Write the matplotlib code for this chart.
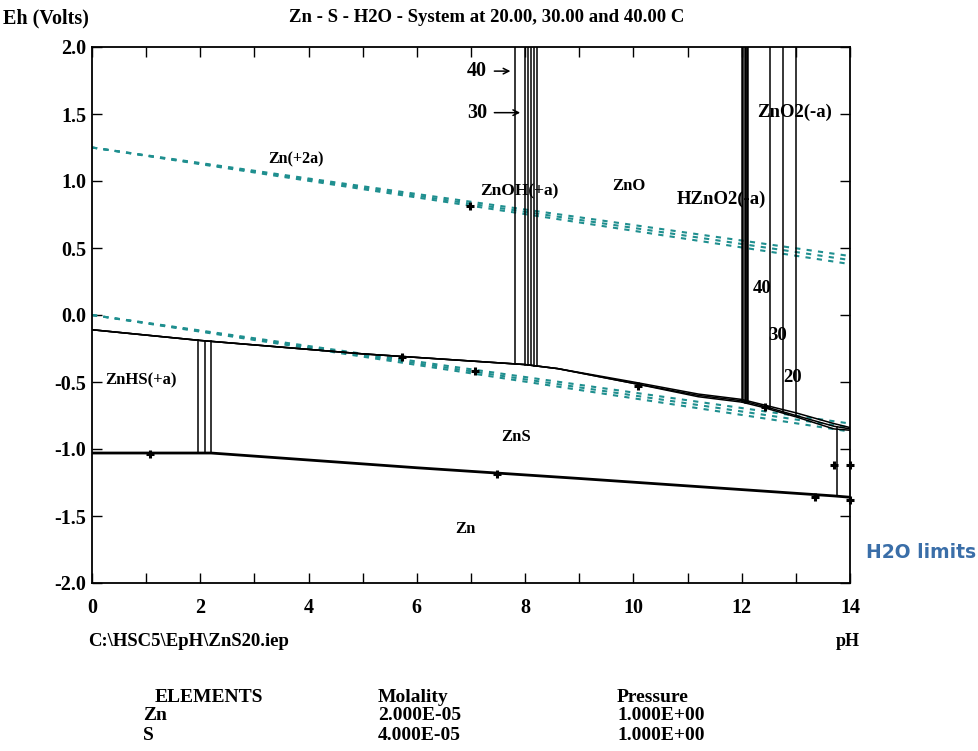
import numpy as np
import matplotlib
matplotlib.use("Agg")
import matplotlib.pyplot as plt

# ---------------- data ----------------
# water stability limits (teal dashed), 20/30/40 C
water_ph = [0.0, 14.0]
o2_limit_20 = [1.25, 0.44]
o2_limit_30 = [1.25, 0.41]
o2_limit_40 = [1.25, 0.38]
h2_limit_20 = [0.0, -0.81]
h2_limit_30 = [0.0, -0.84]
h2_limit_40 = [0.0, -0.87]

# upper ZnS stability boundary (black)
upper_ph = [0.0, 2.0, 5.0, 8.0, 8.6, 10.0, 11.2, 12.0, 12.4, 13.0, 13.7, 14.0]
upper_eh_20 = [-0.11, -0.19, -0.29, -0.37, -0.40, -0.50, -0.59, -0.63, -0.67, -0.73, -0.81, -0.84]
upper_eh_30 = [-0.11, -0.19, -0.29, -0.37, -0.40, -0.51, -0.60, -0.64, -0.68, -0.75, -0.83, -0.85]
upper_eh_40 = [-0.11, -0.19, -0.29, -0.37, -0.40, -0.51, -0.61, -0.65, -0.69, -0.76, -0.85, -0.86]

# lower ZnS / Zn boundary (black)
lower_ph = [0.0, 2.2, 6.0, 9.0, 13.7, 14.0]
lower_eh = [-1.03, -1.03, -1.14, -1.22, -1.35, -1.36]

# vertical boundaries
znhs_ph = [1.96, 2.09, 2.20]
zn2_znoh_ph = [7.81, 7.99, 8.06, 8.11, 8.16, 8.22]
zno_hzno2_ph = [12.01, 12.06, 12.09]
zno_zno2_ph = [12.52, 12.76, 13.00]
zno2_temps = ["40", "30", "20"]
right_edge_ph = [13.76]

# small reaction markers
marker_ph = [6.98, 5.73, 7.07, 10.08, 12.43, 1.07, 7.48, 13.70, 14.0, 14.0, 13.35]
marker_eh = [0.81, -0.31, -0.42, -0.53, -0.69, -1.04, -1.19, -1.12, -1.12, -1.38, -1.36]

# region labels
labels = ["Zn(+2a)", "ZnOH(+a)", "ZnO", "HZnO2(-a)", "ZnO2(-a)", "ZnHS(+a)", "ZnS", "Zn"]
label_ph = [3.77, 7.89, 9.92, 11.62, 12.98, 0.90, 7.83, 6.90]
label_eh = [1.16, 0.92, 0.96, 0.86, 1.51, -0.49, -0.91, -1.60]
label_size = [11.5, 12.5, 12, 13.5, 13.5, 12, 12, 12]

# table
elements = ["Zn", "S"]
molality = ["2.000E-05", "4.000E-05"]
pressure = ["1.000E+00", "1.000E+00"]

# ---------------- plot ----------------
W, H = 979, 751
fig = plt.figure(figsize=(W / 100, H / 100), dpi=100)
ax = fig.add_axes([92 / W, 1 - 583 / H, (850 - 92) / W, (583 - 47) / H])

serif = "Liberation Serif"
teal = "#1f8f8f"

for o2, h2 in [(o2_limit_20, h2_limit_20), (o2_limit_30, h2_limit_30), (o2_limit_40, h2_limit_40)]:
    ax.plot(water_ph, o2, color=teal, lw=1.5, ls=(0, (2.5, 3)))
    ax.plot(water_ph, h2, color=teal, lw=1.5, ls=(0, (2.5, 3)))

for eh in [upper_eh_20, upper_eh_30, upper_eh_40]:
    ax.plot(upper_ph, eh, color="black", lw=1.1)
ax.plot(lower_ph, lower_eh, color="black", lw=2.0)

def upper_at(p):
    return np.interp(p, upper_ph, upper_eh_30)

def lower_at(p):
    return np.interp(p, lower_ph, lower_eh)

for p in znhs_ph:
    ax.plot([p, p], [upper_at(p), lower_at(p)], color="black", lw=1.1)
for p in zn2_znoh_ph + zno_zno2_ph:
    ax.plot([p, p], [2.0, upper_at(p)], color="black", lw=1.1)
for p in zno_hzno2_ph:
    ax.plot([p, p], [2.0, upper_at(p)], color="black", lw=1.8)
for p in right_edge_ph:
    ax.plot([p, p], [upper_at(p), lower_at(p)], color="black", lw=1.1)

ax.plot(marker_ph, marker_eh, ls="none", marker="+", ms=6, mew=2.2, color="black", clip_on=False)

for t, x, y, s in zip(labels, label_ph, label_eh, label_size):
    ax.text(x, y, t, ha="center", va="center", fontsize=s, fontweight="bold",
            family=serif, color="black")

# temperature labels on ZnO / ZnO2(-a) boundaries
for t, x, y in zip(zno2_temps, [12.37, 12.67, 12.93], [0.20, -0.15, -0.47]):
    ax.text(x, y, t, ha="center", va="center", fontsize=13.5, fontweight="bold", family=serif)

# arrows on ZnOH boundaries
for t, y, xe in [("40", 1.82, zn2_znoh_ph[0]), ("30", 1.51, zn2_znoh_ph[1])]:
    ax.annotate("", xy=(xe - 0.03, y), xytext=(7.38, y),
                arrowprops=dict(arrowstyle="->", color="black", lw=1.1))
    ax.text(7.30, y, t, ha="right", va="center", fontsize=14.5, fontweight="bold", family=serif)

ax.set_xlim(0, 14)
ax.set_ylim(-2.0, 2.0)
ax.set_xticks(range(0, 15, 2))
ax.set_xticks(range(0, 15, 1), minor=True)
ax.set_yticks(np.arange(-2.0, 2.01, 0.5))
ax.set_yticklabels([f"{v:.1f}" for v in np.arange(-2.0, 2.01, 0.5)])
ax.tick_params(axis="both", which="both", direction="in", top=True, right=True,
               length=7, width=1.0, labelsize=14.5)
ax.tick_params(axis="x", which="major", pad=11)
ax.tick_params(axis="y", which="major", pad=4)
for lab in ax.get_xticklabels() + ax.get_yticklabels():
    lab.set_family(serif)
    lab.set_fontweight("bold")
for s in ax.spines.values():
    s.set_linewidth(1.3)

def fpx(x, y):
    return x / W, 1 - y / H

fig.text(*fpx(3, 18), "Eh (Volts)", ha="left", va="center", fontsize=14.5, fontweight="bold", family=serif)
fig.text(*fpx(487, 18), "Zn - S - H2O - System at 20.00, 30.00 and 40.00 C", ha="center", va="center",
         fontsize=13.5, fontweight="bold", family=serif)
fig.text(*fpx(88, 641), "C:\\HSC5\\EpH\\ZnS20.iep", ha="left", va="center", fontsize=13.5,
         fontweight="bold", family=serif)
fig.text(*fpx(848, 641), "pH", ha="center", va="center", fontsize=13, fontweight="bold", family=serif)
fig.text(*fpx(866, 553), "H2O limits", ha="left", va="center", fontsize=13.5, fontweight="bold",
         family="DejaVu Sans", color="#3a6ea8")

tsize = 14
fig.text(*fpx(155, 697), "ELEMENTS", ha="left", va="center", fontsize=tsize, fontweight="bold", family=serif)
fig.text(*fpx(378, 697), "Molality", ha="left", va="center", fontsize=tsize, fontweight="bold", family=serif)
fig.text(*fpx(617, 697), "Pressure", ha="left", va="center", fontsize=tsize, fontweight="bold", family=serif)
for i, (e, m, p) in enumerate(zip(elements, molality, pressure)):
    y = 716 + 19 * i
    fig.text(*fpx(143, y), e, ha="left", va="center", fontsize=tsize, fontweight="bold", family=serif)
    fig.text(*fpx(378, y), m, ha="left", va="center", fontsize=tsize, fontweight="bold", family=serif)
    fig.text(*fpx(617, y), p, ha="left", va="center", fontsize=tsize, fontweight="bold", family=serif)

fig.savefig("out.png", dpi=100)
